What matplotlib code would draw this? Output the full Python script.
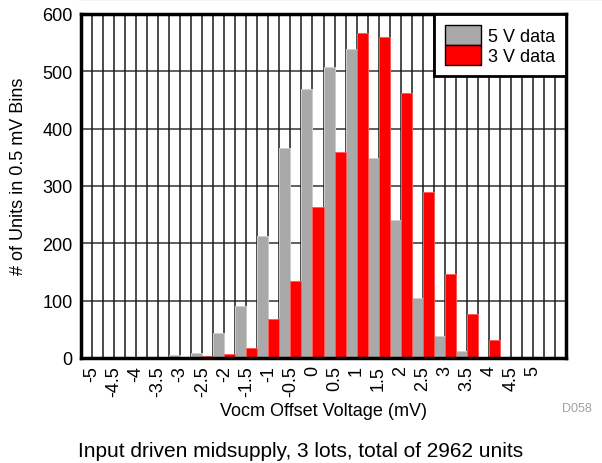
"""
Vocm offset voltage histogram, 5 V vs 3 V supply.
Grouped bars per 0.5 mV bin, saved to out.png.
"""

import matplotlib
matplotlib.use("Agg")
import matplotlib.pyplot as plt
from matplotlib.patches import Patch
from matplotlib.lines import Line2D
import numpy as np

plt.rcParams["font.family"] = ["Liberation Sans", "DejaVu Sans"]

# Bin labels (mV); the last bin is the unlabeled overflow bin
bin_labels = ["-5", "-4.5", "-4", "-3.5", "-3", "-2.5", "-2", "-1.5", "-1", "-0.5",
              "0", "0.5", "1", "1.5", "2", "2.5", "3", "3.5", "4", "4.5", "5", ""]

# Unit counts per bin
counts_5v = [0, 0, 0, 0, 5, 9, 43, 90, 213, 366,
             469, 507, 539, 348, 240, 105, 38, 13, 0, 0, 0, 0]
counts_3v = [0, 0, 0, 0, 0, 3, 7, 17, 68, 135,
             263, 359, 566, 560, 462, 290, 146, 76, 31, 2, 0, 0]

series_names = ["5 V data", "3 V data"]
GRAY = "#a9a9a9"
RED = "#ff0000"

fig = plt.figure(figsize=(6.02, 4.64), dpi=100)
ax = fig.add_axes([81 / 602, 1 - 359 / 464, 485 / 602, 344 / 464])

x = np.arange(len(bin_labels))
w = 0.5
ax.bar(x - w / 2, counts_5v, width=w, color=GRAY, edgecolor="#cfcfcf",
       linewidth=0.7, zorder=2)
ax.bar(x + w / 2, counts_3v, width=w, color=RED, edgecolor="#ff5a5a",
       linewidth=0.7, zorder=2)

ax.set_xlim(-0.5, len(bin_labels) - 0.5)
ax.set_ylim(0, 600)

# grid: every half bin vertically, every 100 units horizontally
for gx in np.arange(0, len(bin_labels) - 0.5, 0.5):
    ax.axvline(gx, color="0.1", linewidth=1.1, zorder=1)
ax.set_yticks(np.arange(0, 601, 100))
ax.yaxis.grid(True, color="0.2", linewidth=1.1, zorder=1)
ax.set_axisbelow(True)

ax.set_xticks(x[:-1])
ax.set_xticklabels(bin_labels[:-1], rotation=90)
ax.tick_params(axis="both", length=0, labelsize=13)
ax.tick_params(axis="x", pad=5)
ax.tick_params(axis="y", pad=6)

for s in ax.spines.values():
    s.set_linewidth(2.5)
    s.set_color("black")
    s.set_zorder(5)

ax.set_xlabel("Vocm Offset Voltage (mV)", fontsize=13)
ax.xaxis.set_label_coords(0.5, -0.128)
ax.set_ylabel("# of Units in 0.5 mV Bins", fontsize=13)
ax.yaxis.set_label_coords(-0.112, 0.53)

handles = [Patch(facecolor=GRAY, edgecolor="black", linewidth=1),
           Patch(facecolor=RED, edgecolor="black", linewidth=1)]
leg = ax.legend(handles, series_names, loc="upper right", bbox_to_anchor=(1, 1),
                borderaxespad=0, fontsize=13, fancybox=False, framealpha=1,
                edgecolor="black", handlelength=2.0, handleheight=1.35,
                labelspacing=0, handletextpad=0.4, borderpad=0.6)
leg.get_frame().set_linewidth(2)
leg.set_zorder(6)

fig.text(577 / 602, 1 - 409 / 464, "D058", color="#a0a0a0", fontsize=9,
         ha="center", va="center")
fig.text(0.5, 1 - 452 / 464, "Input driven midsupply, 3 lots, total of 2962 units",
         fontsize=15, ha="center", va="center")
fig.add_artist(Line2D([80 / 602, 1], [0.999, 0.999], color="black", linewidth=1.5))

fig.savefig("out.png", dpi=100)
